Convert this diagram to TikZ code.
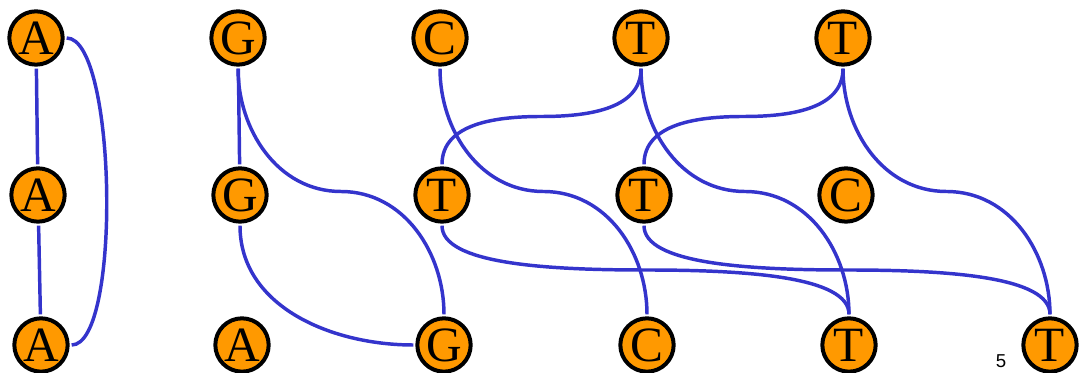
\documentclass[tikz,border=0pt]{standalone}
\usepackage{fontspec}
\setmainfont{Liberation Serif}
\setsansfont{Liberation Sans}
\usetikzlibrary{positioning, calc}
\definecolor{basefill}{RGB}{255, 153, 0}
\definecolor{linkblue}{RGB}{52, 52, 204}
\tikzset{
    base/.style={circle, draw=black, fill=basefill, line width=3pt, minimum size=40pt, inner sep=0pt, text centered, font=\fontsize{37}{37}\selectfont},
    link/.style={draw=linkblue, line width=2.6pt, shorten <=1.5pt, shorten >=1.5pt},
    pagenum/.style={font=\sffamily\fontsize{14}{14}\selectfont, inner sep=0pt}
}

\begin{document}
\begin{tikzpicture}[x=0.75pt, y=-0.75pt]
        \useasboundingbox (0,0) rectangle (1079,373);

        % top row
        \node [base] (topA) at (36,38) {A};
        \node [base] (topG) at (238,38) {G};
        \node [base] (topC) at (440,38) {C};
        \node [base] (topT) at (641,38) {T};
        \node [base] (topTb) at (843,38) {T};

        % middle row
        \node [base] (midA) at (38,195) {A};
        \node [base] (midG) at (240,195) {G};
        \node [base] (midT) at (442,195) {T};
        \node [base] (midTb) at (644,195) {T};
        \node [base] (midC) at (846,195) {C};

        % bottom row
        \node [base] (botA) at (41,345) {A};
        \node [base] (botAb) at (242,345) {A};
        \node [base] (botG) at (444,345) {G};
        \node [base] (botC) at (647,345) {C};
        \node [base] (botT) at (849,345) {T};
        \node [base] (botTb) at (1050,345) {T};

        \node [pagenum] (page) at (1001,361) {5};

        % Draws
        \draw [link] (topA) -- (midA);
        \draw [link] (midA) -- (botA);
        \draw [link] (topA.east) to[out=0, in=0, distance=39pt] (botA.east);
        \draw [link] (topG) -- (midG);
        \draw [link] (topG.south) to[out=-90, in=180] ($(topG.south)!0.5!(botG.north)$) to[out=0, in=90] (botG.north);
        \draw [link] (midG.south) to[out=-90, in=180] (botG.west);
        \draw [link] (topC.south) to[out=-90, in=180] ($(topC.south)!0.5!(botC.north)$) to[out=0, in=90] (botC.north);
        \draw [link] (topT.south) to[out=-90, in=0] ($(topT.south)!0.5!(midT.north)$) to[out=180, in=90] (midT.north);
        \draw [link] (topT.south) to[out=-90, in=180] ($(topT.south)!0.5!(botT.north)$) to[out=0, in=90] (botT.north);
        \draw [link] (topTb.south) to[out=-90, in=0] ($(topTb.south)!0.5!(midTb.north)$) to[out=180, in=90] (midTb.north);
        \draw [link] (topTb.south) to[out=-90, in=180] ($(topTb.south)!0.5!(botTb.north)$) to[out=0, in=90] (botTb.north);
        \draw [link] (midT.south) to[out=-90, in=180, out distance=30pt, in distance=75pt] ($(midT.south)!0.5!(botT.north)$)
            to[out=0, in=90, out distance=75pt, in distance=30pt] (botT.north);
        \draw [link] (midTb.south) to[out=-90, in=180, out distance=30pt, in distance=75pt] ($(midTb.south)!0.5!(botTb.north)$)
            to[out=0, in=90, out distance=75pt, in distance=30pt] (botTb.north);

    \end{tikzpicture}
\end{document}
